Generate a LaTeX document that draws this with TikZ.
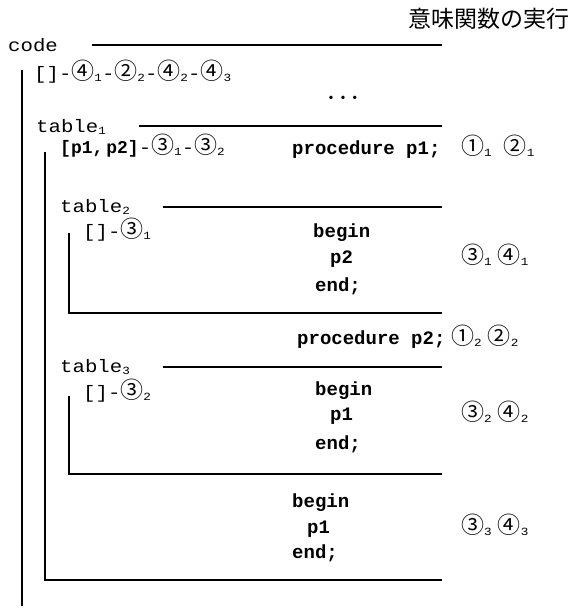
\documentclass[tikz,border=0pt]{standalone}
\usepackage{fontspec}
\setmainfont{Liberation Serif}
\newfontfamily\monof[FakeStretch=1.15]{Liberation Mono}
\newfontfamily\monob{Liberation Mono Bold}
\newfontfamily\cjkf{Noto Sans CJK JP}
\newcommand\subn[1]{\raisebox{-2pt}{\fontsize{11}{11}\selectfont\monof #1}}
\newcommand\cn[2]{{\fontsize{23}{23}\selectfont\cjkf #1}\subn{#2}}
\begin{document}
\begin{tikzpicture}[x=1pt,y=-1pt,
  txt/.style={anchor=west,inner sep=0pt,text height=0.7em,text depth=0.2em},
  plain/.style={txt,font=\fontsize{18}{18}\selectfont\monof},
  boldc/.style={txt,font=\fontsize{19}{19}\selectfont\monob},
  rulel/.style={line width=1.3pt}]
\useasboundingbox (0,0) rectangle (569,608);

% title
\node[anchor=east,inner sep=0pt,font=\fontsize{23}{23}\selectfont\cjkf] (title) at (570,19) {意味関数の実行};

% code block
\node[plain] (code) at (8,49) {code};
\node[plain] (codelist) at (34,77) {[]-\cn{④}{1}-\cn{②}{2}-\cn{④}{2}-\cn{④}{3}};
\node[inner sep=0pt,font=\fontsize{14}{14}\selectfont] (dots) at (343,99) {\textbullet\hspace{7pt}\textbullet\hspace{7pt}\textbullet};

% table1
\node[plain] (t1) at (36,130) {table\subn{1}};
\node[plain] (t1list) at (60,151) {{\fontsize{18}{18}\selectfont\monob [p1,\,p2]}-\cn{③}{1}-\cn{③}{2}};
\node[boldc] (proc1) at (292,152) {procedure p1;};
\node[plain] (n12) at (461,152) {\cn{①}{1}\hspace{12pt}\cn{②}{1}};

% table2
\node[plain] (t2) at (60,210) {table\subn{2}};
\node[plain] (t2list) at (83,235) {[]-\cn{③}{1}};
\node[boldc] (b1) at (313,235) {begin};
\node[boldc] (c1) at (330,261) {p2};
\node[plain] (n34a) at (461,261) {\cn{③}{1}\hspace{6pt}\cn{④}{1}};
\node[boldc] (e1) at (315,289) {end;};

\node[boldc] (proc2) at (297,342) {procedure p2;};
\node[plain] (n12b) at (451,342) {\cn{①}{2}\hspace{6pt}\cn{②}{2}};

% table3
\node[plain] (t3) at (60,370) {table\subn{3}};
\node[plain] (t3list) at (83,396) {[]-\cn{③}{2}};
\node[boldc] (b2) at (315,393) {begin};
\node[boldc] (c2) at (330,418) {p1};
\node[plain] (n34b) at (461,418) {\cn{③}{2}\hspace{6pt}\cn{④}{2}};
\node[boldc] (e2) at (315,447) {end;};

% body of table1
\node[boldc] (b3) at (292,505) {begin};
\node[boldc] (c3) at (307,531) {p1};
\node[plain] (n34c) at (461,531) {\cn{③}{3}\hspace{6pt}\cn{④}{3}};
\node[boldc] (e3) at (292,556) {end;};

% rules
\draw[rulel] (92,45) -- (442,45);
\draw[rulel] (22,70) -- (22,606);
\draw[rulel] (139,126) -- (442,126);
\draw[rulel] (45,152) -- (45,580) -- (442,580);
\draw[rulel] (163,207) -- (442,207);
\draw[rulel] (69,233) -- (69,313) -- (442,313);
\draw[rulel] (163,367) -- (442,367);
\draw[rulel] (69,396) -- (69,474) -- (442,474);
\end{tikzpicture}
\end{document}
